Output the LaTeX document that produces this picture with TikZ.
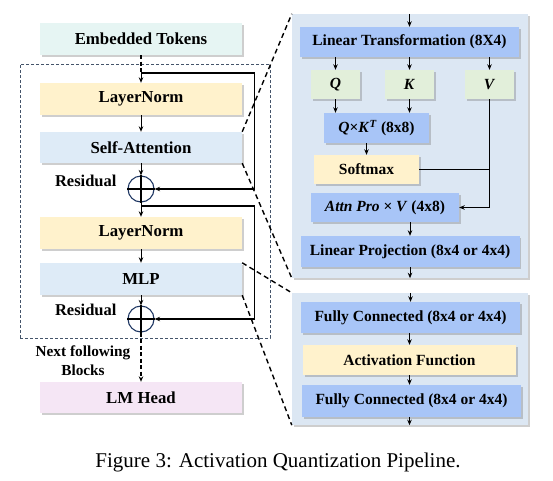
\documentclass[tikz,border=0pt]{standalone}
\usepackage{fontspec}
\setmainfont{Liberation Serif}
\usetikzlibrary{arrows.meta,shadows,calc}
\definecolor{cET}{HTML}{E6F5F3}
\definecolor{cYel}{HTML}{FFF2CC}
\definecolor{cLB}{HTML}{DEEBF7}
\definecolor{cPink}{HTML}{F5E6F5}
\definecolor{cPanel}{HTML}{DCE7F3}
\definecolor{cMid}{HTML}{A8C5F7}
\definecolor{cGreen}{HTML}{E2EFDA}
\definecolor{cNavy}{HTML}{203864}
\definecolor{cBox}{HTML}{44546A}
\begin{document}
\begin{tikzpicture}[x=1pt,y=-1pt,
  shad/.style={drop shadow={shadow xshift=1.8pt,shadow yshift=-1.8pt,opacity=0.35,fill=black!55}},
  lbox/.style={shad,draw=none,inner sep=0pt,font=\fontsize{16.8}{19}\selectfont\bfseries},
  rbox/.style={shad,draw=none,inner sep=0pt,font=\fontsize{15.5}{18}\selectfont\bfseries},
  panel/.style={shad,draw=none,fill=cPanel,inner sep=0pt},
  arr/.style={-{Stealth[length=5.5pt,width=4.5pt]},line width=1pt},
  skipline/.style={line width=1.4pt},
  zoomline/.style={line width=1.4pt,dash pattern=on 5pt off 3.5pt},
  flowdash/.style={line width=1.2pt,dash pattern=on 4pt off 2.5pt},
  sumnode/.style={circle,draw=cNavy,line width=1.1pt,minimum size=26pt,inner sep=0pt},
  plain/.style={font=\fontsize{16.5}{19}\selectfont\bfseries},
]
\useasboundingbox (0,0) rectangle (553,480);

% outer dashed block
\node[draw=cBox,line width=0.9pt,dash pattern=on 3pt off 2pt,minimum width=250pt,minimum height=274pt,inner sep=0pt] (blk) at (145,201) {};

% left column
\node[lbox,fill=cET,minimum width=202pt,minimum height=32pt] (et) at (141,39) {Embedded Tokens};
\node[lbox,fill=cYel,minimum width=202pt,minimum height=32pt] (ln1) at (141,99) {LayerNorm};
\node[lbox,fill=cLB,minimum width=202pt,minimum height=31pt] (sa) at (141,147.5) {Self-Attention};
\node[sumnode] (c1) at (141,189) {};
\node[lbox,fill=cYel,minimum width=202pt,minimum height=32pt] (ln2) at (141,233) {LayerNorm};
\node[lbox,fill=cLB,minimum width=202pt,minimum height=32pt] (mlp) at (141,279) {MLP};
\node[sumnode] (c2) at (141,319) {};
\node[lbox,fill=cPink,minimum width=202pt,minimum height=31pt] (lmh) at (141,397.5) {LM Head};

\node[plain,anchor=east] (res1) at (120,181) {Residual};
\node[plain,anchor=east] (res2) at (120,310) {Residual};
\node[font=\fontsize{15.3}{19}\selectfont\bfseries,align=center] (nfb) at (83,361) {Next following\\Blocks};

\coordinate (j1) at (141,73);
\coordinate (sk1) at (254.5,73);
\coordinate (j2) at (141,206);
\coordinate (sk2) at (254.5,206);

\draw[flowdash] (et.south) -- (j1);
\draw[arr] (j1) -- (ln1.north);
\draw[arr] (ln1.south) -- (sa.north);
\draw[arr] (sa.south) -- (c1.north);
\draw[line width=1.1pt] (c1.north) -- (c1.south) (c1.west) -- (c1.east);
\draw[arr] (c1.south) -- (ln2.north);
\draw[skipline,-{Stealth[length=5.5pt,width=4.5pt]}] (j1) -- (sk1) |- (c1.east);
\draw[skipline,-{Stealth[length=5.5pt,width=4.5pt]}] (j2) -- (sk2) |- (c2.east);
\draw[arr] (ln2.south) -- (mlp.north);
\draw[arr] (mlp.south) -- (c2.north);
\draw[line width=1.1pt] (c2.north) -- (c2.south) (c2.west) -- (c2.east);
\draw[flowdash,-{Stealth[length=5.5pt,width=4.5pt]}] (c2.south) -- (lmh.north);

% right panels
\node[panel,minimum width=236pt,minimum height=264pt] (pa) at (410,146) {};
\node[panel,minimum width=236pt,minimum height=132pt] (pm) at (410,359) {};

\node[rbox,fill=cMid,minimum width=219pt,minimum height=30pt] (lt) at (409.5,42) {Linear Transformation (8X4)};
\node[rbox,fill=cGreen,minimum width=49pt,minimum height=29pt] (q) at (335.5,84.5) {\textit{Q}};
\node[rbox,fill=cGreen,minimum width=49pt,minimum height=29pt] (k) at (409.5,84.5) {\textit{K}};
\node[rbox,fill=cGreen,minimum width=49pt,minimum height=29pt] (v) at (489.5,84.5) {\textit{V}};
\node[rbox,fill=cMid,minimum width=105pt,minimum height=30pt] (qk) at (376.5,128) {\textit{Q}×\textit{K}\textsuperscript{\textit{T}} (8x8)};
\node[rbox,fill=cYel,minimum width=105pt,minimum height=29pt] (sm) at (366.5,169.5) {Softmax};
\node[rbox,fill=cMid,minimum width=148pt,minimum height=29pt] (at) at (385,207.5) {\textit{Attn Pro} × \textit{V} (4x8)};
\node[rbox,fill=cMid,minimum width=219pt,minimum height=31pt] (lp) at (410,251.5) {Linear Projection (8x4 or 4x4)};

\node[rbox,fill=cMid,minimum width=219pt,minimum height=31pt] (fc1) at (410.5,317.5) {Fully Connected (8x4 or 4x4)};
\node[rbox,fill=cYel,minimum width=213pt,minimum height=30pt] (af) at (409.5,360) {Activation Function};
\node[rbox,fill=cMid,minimum width=219pt,minimum height=32pt] (fc2) at (411.5,401) {Fully Connected (8x4 or 4x4)};

\coordinate (vb) at (489.5,207.5);
\draw[arr] (lt.north |- pa.north) -- (lt.north);
\draw[arr] (q.north |- lt.south) -- (q.north);
\draw[arr] (k.north |- lt.south) -- (k.north);
\draw[arr] (v.north |- lt.south) -- (v.north);
\draw[arr] (q.south) -- (q.south |- qk.north);
\draw[arr] (k.south) -- (k.south |- qk.north);
\draw[arr] (sm.north |- qk.south) -- (sm.north);
\draw[skipline] (v.south) -- (vb);
\draw[skipline,-{Stealth[length=5.5pt,width=4.5pt]}] (vb) -- (at.east);
\draw[line width=1pt] (sm.east) -- (sm.east -| vb);
\draw[arr] (lp.north |- at.south) -- (lp.north);
\draw[arr] (lp.south) -- (lp.south |- pa.south);
\draw[arr] (fc1.north |- pm.north) -- (fc1.north);
\draw[arr] (af.north |- fc1.south) -- (af.north);
\draw[arr] (af.south) -- (af.south |- fc2.north);
\draw[arr] (fc2.south -| af.south) -- (af.south |- pm.south);

% zoom lines
\draw[zoomline] (sa.north east) -- (pa.north west);
\draw[zoomline] (sa.south east) -- (pa.south west);
\draw[zoomline] (mlp.north east) -- (pm.north west);
\draw[zoomline] (mlp.south east) -- (pm.south west);

\node[font=\fontsize{21}{24}\selectfont] (cap) at (278,462) {Figure 3: Activation Quantization Pipeline.};
\end{tikzpicture}
\end{document}
